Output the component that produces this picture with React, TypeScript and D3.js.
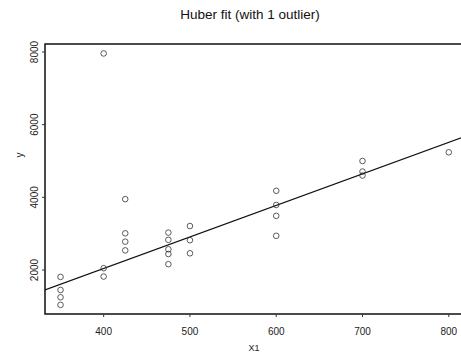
import React from "react";
import * as d3 from "d3";

const xValues = [350, 350, 350, 350, 400, 400, 400, 425, 425, 425, 425, 475, 475, 475, 475, 475, 500, 500, 500, 600, 600, 600, 600, 700, 700, 700, 800];
const yValues = [1810, 1450, 1250, 1040, 2050, 1820, 7960, 3950, 3010, 2780, 2540, 3030, 2830, 2570, 2440, 2160, 3210, 2820, 2460, 4180, 3790, 3490, 2940, 5000, 4710, 4600, 5240];
const xTicks = [400, 500, 600, 700, 800];
const yTicks = [2000, 4000, 6000, 8000];
const fitIntercept = -1432;
const fitSlope = 8.68;
const title = "Huber fit (with 1 outlier)";
const xLabel = "X1";
const yLabel = "y";

const W = 461;
const H = 360;
const left = 45;
const right = 466;
const top = 44;
const bottom = 314;

export default function App() {
  const x = d3.scaleLinear().domain([332, 813]).range([left, 460]);
  const y = d3.scaleLinear().domain([2000, 8000]).range([270, 52]);
  const xDom = [x.invert(left), x.invert(right)];
  const fitLine = d3.line<number>().x((d) => x(d)).y((d) => y(fitIntercept + fitSlope * d));
  const font = "'Liberation Sans', Arial, Helvetica, sans-serif";
  return (
    <svg width={W} height={H} style={{ position: "absolute", left: 0, top: 0, background: "#fff" }}>
      <text x={250} y={19} textAnchor="middle" fontFamily={font} fontSize={13.5} fill="#111">{title}</text>
      <defs>
        <clipPath id="plot"><rect x={left} y={top} width={right - left} height={bottom - top} /></clipPath>
      </defs>
      <rect x={left} y={top} width={right - left} height={bottom - top} fill="none" stroke="#111" strokeWidth={1.5} />
      {xTicks.map((t) => (
        <g key={t}>
          <line x1={x(t)} x2={x(t)} y1={bottom} y2={bottom + 3} stroke="#333" strokeWidth={1} />
          <text x={x(t)} y={335} textAnchor="middle" fontFamily={font} fontSize={10} fill="#222">{t}</text>
        </g>
      ))}
      {yTicks.map((t) => (
        <g key={t}>
          <line x1={left - 3} x2={left} y1={y(t)} y2={y(t)} stroke="#333" strokeWidth={1} />
          <text transform={`translate(38,${y(t)}) rotate(-90)`} textAnchor="middle" fontFamily={font} fontSize={10} fill="#222">{t}</text>
        </g>
      ))}
      <text x={254} y={351} textAnchor="middle" fontFamily={font} fontSize={9} fill="#222">{xLabel}</text>
      <text transform={`translate(23,155) rotate(-90)`} textAnchor="middle" fontFamily={font} fontSize={10} fill="#222">{yLabel}</text>
      <g clipPath="url(#plot)">
        <path d={fitLine(xDom) || ""} fill="none" stroke="#111" strokeWidth={1.3} />
        {xValues.map((xv, i) => (
          <circle key={i} cx={x(xv)} cy={y(yValues[i])} r={2.8} fill="none" stroke="#333" strokeWidth={0.8} />
        ))}
      </g>
    </svg>
  );
}
